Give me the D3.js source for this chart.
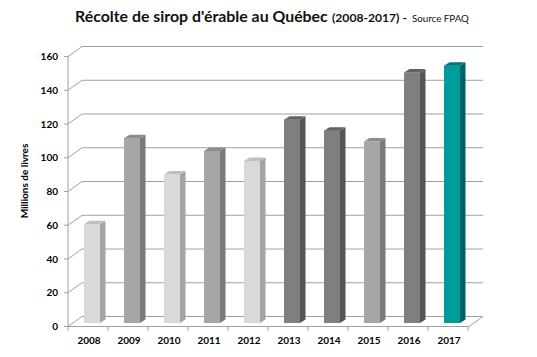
<!DOCTYPE html>
<html><head><meta charset="utf-8">
<script src="https://cdn.jsdelivr.net/npm/d3@7"></script>
<style>body{margin:0;background:#fff}svg{display:block}text{font-family:Lato,"Open Sans",sans-serif}</style>
</head><body>
<svg id="c" width="537" height="357"></svg>
<script>
const years = ["2008","2009","2010","2011","2012","2013","2014","2015","2016","2017"];
const values = [58.5,109.5,88,102,96,120.5,114,107.5,148.5,152.5];
const yTicks = [0,20,40,60,80,100,120,140,160];
const shades = ["light","mid","light","mid","light","dark","dark","mid","dark","teal"];
const palette = {
  light:{front:"#d9d9d9",side:"#a3a3a3",top:"#bfbfbf"},
  mid:{front:"#a6a6a6",side:"#7a7a7a",top:"#8c8c8c"},
  dark:{front:"#7f7f7f",side:"#555555",top:"#626262"},
  teal:{front:"#009b9b",side:"#006363",top:"#007575"}
};
const svg = d3.select("#c");
const x = d3.scaleBand().domain(years).range([68,468]);
const y = d3.scaleLinear().domain([0,160]).range([326.5,56.5]);
const D = {dx:14, dy:-10};       // wall depth
const grid = "#a0a0a0";
const g = svg.append("g");
// back wall gridlines + left wall diagonals
yTicks.forEach(v=>{
  g.append("line").attr("x1",68+D.dx).attr("x2",483).attr("y1",y(v)+D.dy).attr("y2",y(v)+D.dy).attr("stroke",grid);
  g.append("line").attr("x1",68).attr("y1",y(v)).attr("x2",68+D.dx).attr("y2",y(v)+D.dy).attr("stroke",grid);
  g.append("line").attr("x1",64).attr("x2",68).attr("y1",y(v)).attr("y2",y(v)).attr("stroke",grid);
});
// floor
g.append("line").attr("x1",68).attr("x2",469).attr("y1",y(0)).attr("y2",y(0)).attr("stroke",grid);
g.append("line").attr("x1",469).attr("y1",y(0)).attr("x2",483).attr("y2",y(0)+D.dy).attr("stroke",grid);
// front vertical axis
g.append("line").attr("x1",68).attr("x2",68).attr("y1",y(160)).attr("y2",y(0)).attr("stroke",grid);
// x ticks
d3.range(11).forEach(i=>{
  const xx = 68 + i*x.step();
  g.append("line").attr("x1",xx).attr("x2",xx).attr("y1",y(0)).attr("y2",y(0)+4).attr("stroke",grid);
});
// bars
const bw = 16, bdx = 5.5, bdy = -3.5, off = -4, shift = -3.5;
const bars = g.selectAll("g.bar").data(years.map((yr,i)=>({yr,v:values[i],c:palette[shades[i]]}))).join("g");
bars.each(function(d){
  const gg = d3.select(this);
  const xl = x(d.yr)+x.bandwidth()/2+off, xr = xl+bw;
  const top = y(d.v)+shift, bot = y(0)+shift;
  gg.append("rect").attr("x",xl).attr("y",top).attr("width",bw).attr("height",bot-top).attr("fill",d.c.front);
  gg.append("polygon").attr("points",[[xr,top],[xr+bdx,top+bdy],[xr+bdx,bot+bdy],[xr,bot]].join(" ")).attr("fill",d.c.side);
  gg.append("polygon").attr("points",[[xl,top],[xl+bdx,top+bdy],[xr+bdx,top+bdy],[xr,top]].join(" ")).attr("fill",d.c.top);
});
// y tick labels
yTicks.forEach(v=>{
  svg.append("text").attr("x",58).attr("y",y(v)+3.5).attr("text-anchor","end")
    .attr("font-size","10px").attr("font-weight","bold").attr("fill","#000").text(v);
});
// x labels
years.forEach(yr=>{
  svg.append("text").attr("x",x(yr)+x.bandwidth()/2+1).attr("y",344).attr("text-anchor","middle")
    .attr("font-size","10px").attr("font-weight","bold").attr("fill","#000").text(yr);
});
// y axis title
svg.append("text").attr("transform","translate(28,181) rotate(-90)").attr("text-anchor","middle")
  .attr("font-size","10px").attr("font-weight","bold").text("Millions de livres");
// title
function fit(t,w){const l=t.node().getComputedTextLength();const fs=parseFloat(t.attr("font-size"));t.attr("font-size",(fs*w/l)+"px");}
const t1 = svg.append("text").attr("x",75).attr("y",22).attr("font-size","17px").attr("font-weight","bold").attr("fill","#111").text("Récolte de sirop d'érable au Québec");
fit(t1,253);
const t2 = svg.append("text").attr("x",332).attr("y",22).attr("font-size","12px").attr("font-weight","bold").attr("fill","#111").text("(2008-2017) -");
fit(t2,75);
const t3 = svg.append("text").attr("x",412).attr("y",22).attr("font-size","11px").attr("fill","#111").text("Source FPAQ");
fit(t3,57);
</script>
</body></html>
